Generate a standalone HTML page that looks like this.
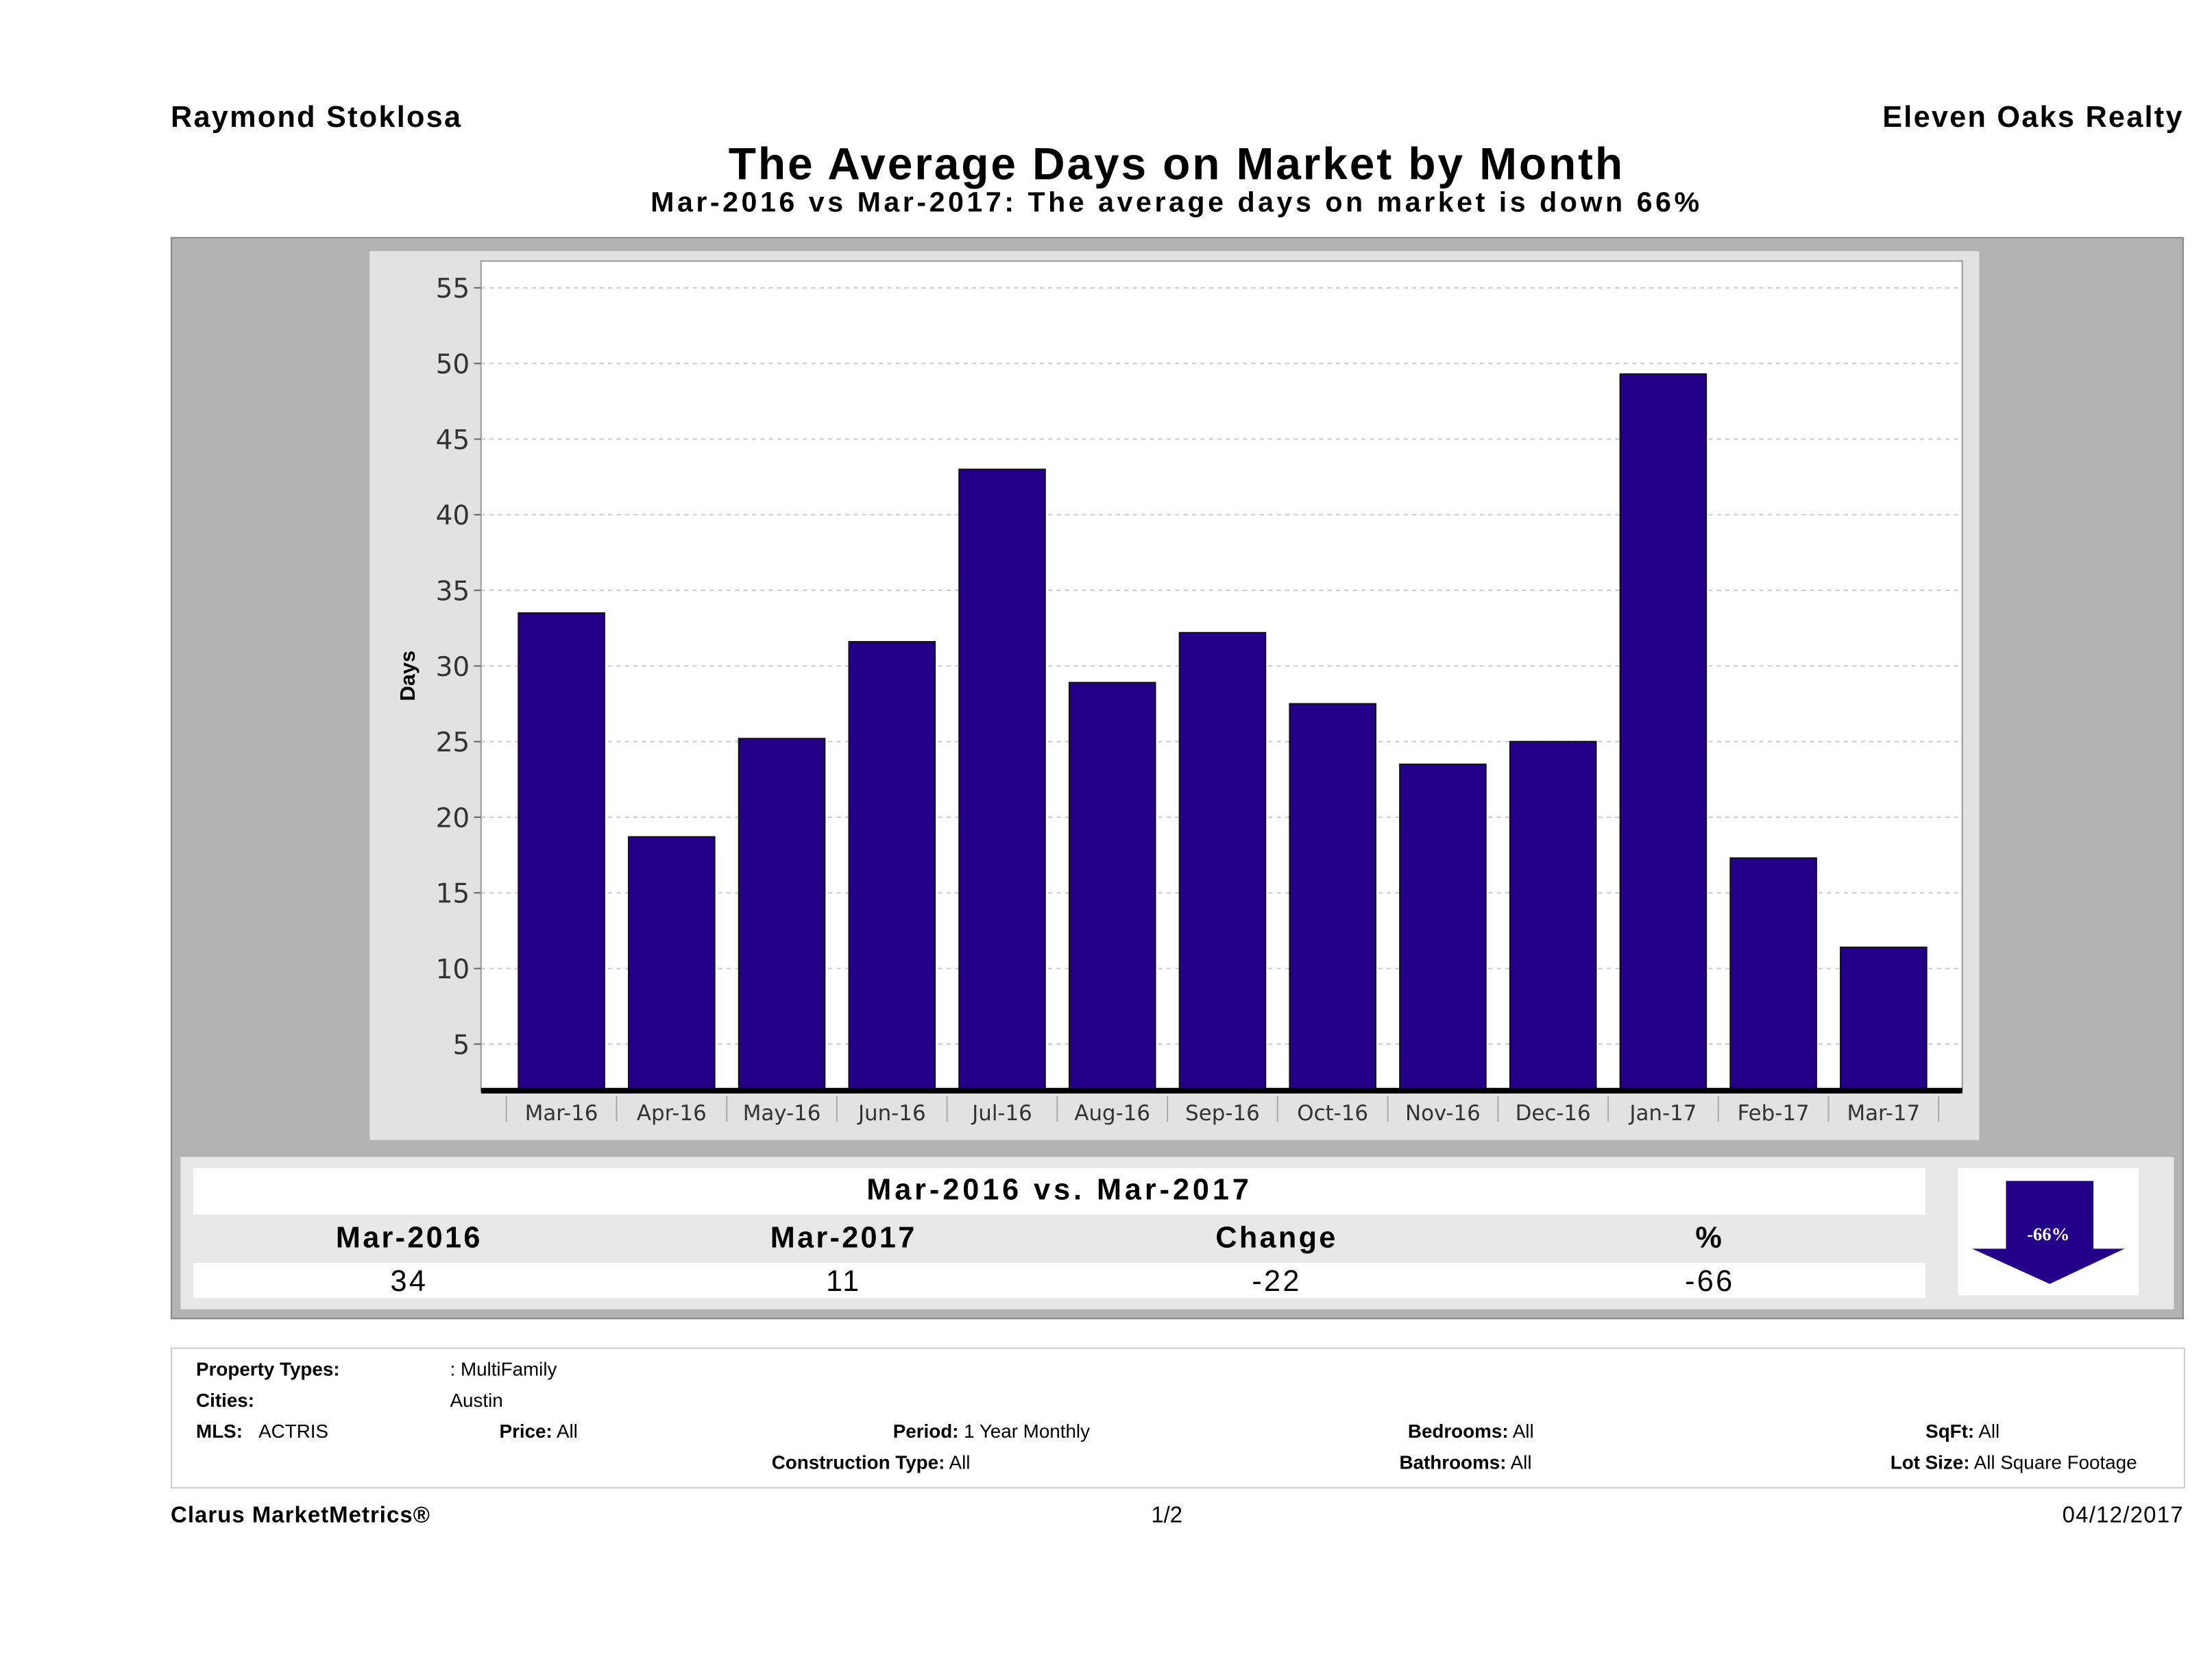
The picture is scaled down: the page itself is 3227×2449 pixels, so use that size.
<!DOCTYPE html>
<html><head><meta charset="utf-8">
<style>
html,body{margin:0;padding:0;background:#fff;}
body{width:3227px;height:2448px;overflow:hidden;}
#wrap{position:absolute;left:0;top:0;width:1568px;height:1190px;transform:scale(2.058);transform-origin:0 0;font-family:"Liberation Sans",sans-serif;color:#000;}
.a{position:absolute;}
.b{font-weight:bold;}
.ft{font-size:13.5px;}
.th{letter-spacing:1.6px;}
</style></head><body>
<div id="wrap">
<div class="a b" style="left:121px;top:72px;font-size:21px;letter-spacing:1.1px">Raymond Stoklosa</div>
<div class="a b" style="right:20px;top:72px;font-size:21px;letter-spacing:1.1px">Eleven Oaks Realty</div>
<div class="a b" style="left:0;width:1668px;top:98px;font-size:32px;text-align:center;letter-spacing:1.4px">The Average Days on Market by Month</div>
<div class="a b" style="left:0;width:1668px;top:133px;font-size:20px;text-align:center;letter-spacing:2.2px">Mar-2016 vs Mar-2017: The average days on market is down 66%</div>
<div class="a" style="left:121px;top:168px;width:1425px;height:765px;background:#b3b3b3;border:1px solid #888"></div>
<div class="a" style="left:262px;top:178px;width:1141px;height:630px;background:#e2e2e2"></div>
<svg class="a" style="left:0;top:0" width="1568" height="1190" id="chart"></svg>

<div class="a" style="left:128px;top:820px;width:1413px;height:108px;background:#e8e8e8"></div>
<div class="a" style="left:137px;top:828px;width:1228px;height:33px;background:#fff"></div>
<div class="a" style="left:137px;top:895px;width:1228px;height:25px;background:#fff"></div>
<div class="a b" style="left:137px;width:1228px;top:832px;font-size:21px;text-align:center;letter-spacing:2.4px">Mar-2016 vs. Mar-2017</div>
<div class="a b th" style="left:190px;width:200px;top:866px;font-size:21px;text-align:center">Mar-2016</div>
<div class="a b th" style="left:498px;width:200px;top:866px;font-size:21px;text-align:center">Mar-2017</div>
<div class="a b th" style="left:805px;width:200px;top:866px;font-size:21px;text-align:center">Change</div>
<div class="a b th" style="left:1112px;width:200px;top:866px;font-size:21px;text-align:center">%</div>
<div class="a th" style="left:190px;width:200px;top:897px;font-size:21px;text-align:center">34</div>
<div class="a th" style="left:498px;width:200px;top:897px;font-size:21px;text-align:center">11</div>
<div class="a th" style="left:805px;width:200px;top:897px;font-size:21px;text-align:center">-22</div>
<div class="a th" style="left:1112px;width:200px;top:897px;font-size:21px;text-align:center">-66</div>
<div class="a" style="left:1388px;top:828px;width:128px;height:90px;background:#fff">
<svg width="128" height="90"><polygon points="34,9 96,9 96,57 118,57 65,82 10,57 34,57" fill="#22008a"/><text x="64" y="51" font-size="13" font-weight="bold" fill="#fff" text-anchor="middle" font-family="Liberation Serif,serif">-66%</text></svg>
</div>

<div class="a" style="left:121px;top:955px;width:1426px;height:98px;border:1px solid #ccc"></div>
<div class="a ft b" style="left:139px;top:963px">Property Types:</div>
<div class="a ft" style="left:319px;top:963px">: MultiFamily</div>
<div class="a ft b" style="left:139px;top:985px">Cities:</div>
<div class="a ft" style="left:319px;top:985px">Austin</div>
<div class="a ft" style="left:139px;top:1007px"><b>MLS:</b>&nbsp;&nbsp;&nbsp;ACTRIS</div>
<div class="a ft" style="left:354px;top:1007px"><b>Price:</b> All</div>
<div class="a ft" style="left:633px;top:1007px"><b>Period:</b> 1 Year Monthly</div>
<div class="a ft" style="left:998px;top:1007px"><b>Bedrooms:</b> All</div>
<div class="a ft" style="left:1365px;top:1007px"><b>SqFt:</b> All</div>
<div class="a ft" style="left:547px;top:1029px"><b>Construction Type:</b> All</div>
<div class="a ft" style="left:992px;top:1029px"><b>Bathrooms:</b> All</div>
<div class="a ft" style="left:1340px;top:1029px"><b>Lot Size:</b> All Square Footage</div>
<div class="a b" style="left:121px;top:1066px;font-size:16px;letter-spacing:0.5px">Clarus MarketMetrics®</div>
<div class="a" style="left:816px;top:1066px;font-size:16px">1/2</div>
<div class="a" style="right:20px;top:1066px;font-size:16px;letter-spacing:0.6px">04/12/2017</div>
</div>
<script>
const categories=["Mar-16","Apr-16","May-16","Jun-16","Jul-16","Aug-16","Sep-16","Oct-16","Nov-16","Dec-16","Jan-17","Feb-17","Mar-17"];
const values=[33.5,18.7,25.2,31.6,43,28.9,32.2,27.5,23.5,25,49.3,17.3,11.4];
const yTicks=[5,10,15,20,25,30,35,40,45,50,55];
const NS="http://www.w3.org/2000/svg";
const svg=document.getElementById('chart');
const X0=341,X1=1391,Y0=185,YB=773;
const yScale=v=>793.6-v*10.72;
const band=78.1,firstC=398;
const xScale=i=>firstC+i*band;
function mk(t,a){const e=document.createElementNS(NS,t);for(const k in a)e.setAttribute(k,a[k]);svg.appendChild(e);return e;}
let r=mk('rect',{x:X0,y:Y0,width:X1-X0,height:YB-Y0,fill:'#fff',stroke:'#999'});


yTicks.forEach(v=>{const y=yScale(v);
 let g=mk('line',{x1:X0,x2:X1,y1:y,y2:y,stroke:'#ccc','stroke-dasharray':'3,3'});
 
 
 mk('line',{x1:X0-5,x2:X0,y1:y,y2:y,stroke:'#666'});
 let t=mk('text',{x:X0-8,y:y+7,'font-size':19,'text-anchor':'end',fill:'#333','font-family':'DejaVu Sans, sans-serif'});
 t.textContent=v;
 
 
});
values.forEach((v,i)=>{const c=xScale(i);const y=yScale(v);
 let b=mk('rect',{x:c-30.5,y:y,width:61,height:YB-y,fill:'#22008a',stroke:'#111','stroke-width':1});
 
 
 mk('line',{x1:c+band/2,x2:c+band/2,y1:YB+4,y2:YB+22,stroke:'#aaa'});
 let t=mk('text',{x:c,y:YB+21,'font-size':15,'text-anchor':'middle',fill:'#333','font-family':'DejaVu Sans, sans-serif'});
 t.textContent=categories[i];
 
 
});
mk('line',{x1:xScale(0)-band/2,x2:xScale(0)-band/2,y1:YB+4,y2:YB+22,stroke:'#aaa'});
let ax=mk('line',{x1:X0,x2:X1,y1:YB,y2:YB,stroke:'#000','stroke-width':4});


let yl=mk('text',{x:0,y:0,'font-size':15,'font-weight':'bold','text-anchor':'middle',transform:'translate(294,479) rotate(-90)'});
yl.textContent='Days';


</script>
</body></html>
